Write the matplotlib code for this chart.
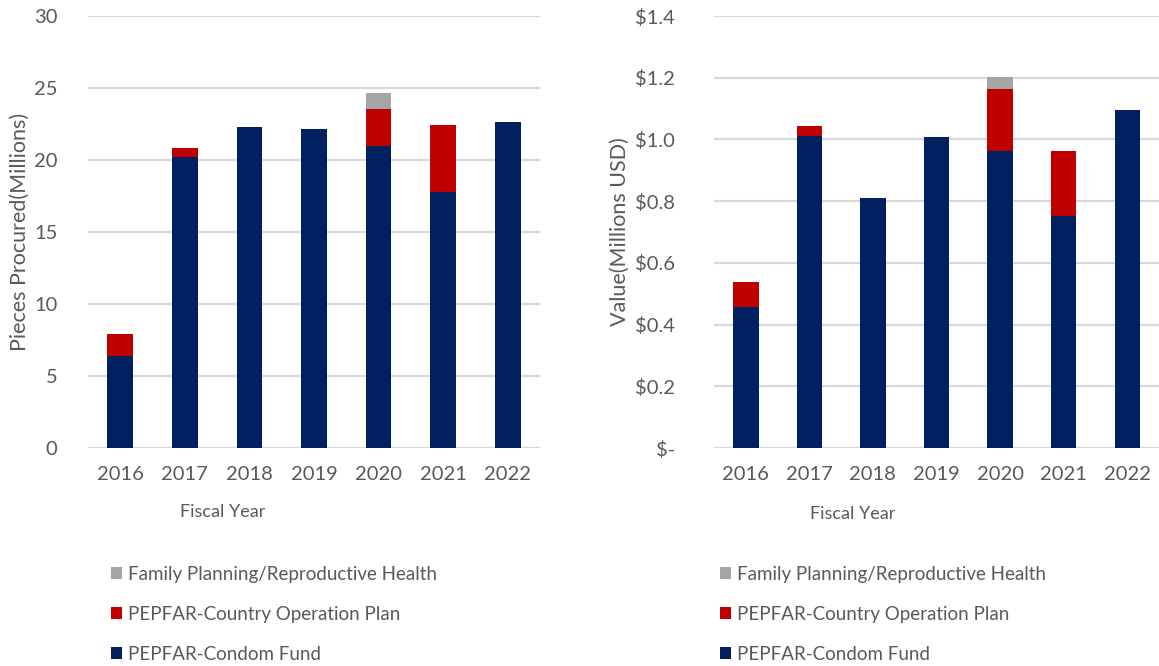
import matplotlib
matplotlib.use("Agg")
import numpy as np
from matplotlib import pyplot as plt
from matplotlib.ticker import FuncFormatter

# Data
years = ["2016", "2017", "2018", "2019", "2020", "2021", "2022"]

pieces_condom_fund = [6.4, 20.2, 22.3, 22.15, 21.0, 17.8, 22.65]
pieces_cop = [1.5, 0.63, 0.0, 0.0, 2.57, 4.6, 0.0]
pieces_fprh = [0.0, 0.0, 0.0, 0.0, 1.05, 0.0, 0.0]

value_condom_fund = [0.456, 1.012, 0.810, 1.008, 0.964, 0.752, 1.094]
value_cop = [0.081, 0.031, 0.0, 0.0, 0.199, 0.212, 0.0]
value_fprh = [0.0, 0.0, 0.0, 0.0, 0.039, 0.0, 0.0]

series_labels = ["PEPFAR-Condom Fund", "PEPFAR-Country Operation Plan",
                 "Family Planning/Reproductive Health"]
series_colors = ["#002060", "#C00000", "#A5A5A5"]

TEXT = "#595959"
GRID = "#D9D9D9"
plt.rcParams['font.family'] = ['Lato', 'DejaVu Sans']

fig = plt.figure(figsize=(11.59, 6.66), dpi=100)
ax1 = fig.add_axes([88 / 1159, 1 - 448 / 666, 452 / 1159, 432 / 666])
ax2 = fig.add_axes([714 / 1159, 1 - 448 / 666, 445 / 1159, 432 / 666])


def draw_stack(ax, stacks):
    x = np.arange(len(years))
    bottom = np.zeros(len(years))
    handles = []
    for vals, lab, col in zip(stacks, series_labels, series_colors):
        h = ax.bar(x, vals, 0.4, bottom=bottom, color=col, label=lab, zorder=3)
        bottom += np.array(vals)
        handles.append(h)
    ax.set_xlim(-0.5, len(years) - 0.5)
    ax.set_xticks(x)
    ax.set_xticklabels(years)
    for s in ax.spines.values():
        s.set_visible(False)
    ax.yaxis.grid(True, color=GRID, linewidth=1.6, zorder=0)
    ax.set_axisbelow(True)
    ax.tick_params(length=0, colors=TEXT, labelsize=14.5)
    ax.tick_params(axis='x', pad=13)
    return handles


h1 = draw_stack(ax1, [pieces_condom_fund, pieces_cop, pieces_fprh])
ax1.set_ylim(0, 30)
ax1.set_yticks(range(0, 31, 5))
ax1.tick_params(axis='y', pad=22)
ax1.set_ylabel("Pieces Procured(Millions)", color=TEXT, fontsize=15.5)
ax1.yaxis.set_label_coords(-58 / 452, 0.5)

h2 = draw_stack(ax2, [value_condom_fund, value_cop, value_fprh])
ax2.set_ylim(0, 1.4)
ax2.set_yticks(np.arange(0, 1.41, 0.2))
ax2.yaxis.set_major_formatter(FuncFormatter(lambda v, p: "$-" if abs(v) < 1e-9 else f"${v:.1f}"))
ax2.tick_params(axis='y', pad=28)
ax2.set_ylabel("Value(Millions USD)", color=TEXT, fontsize=15.5)
ax2.yaxis.set_label_coords(-84 / 445, 0.5)

fig.text(223 / 1159, 1 - 512 / 666, "Fiscal Year", color=TEXT, fontsize=13, ha='center', va='center')
fig.text(853 / 1159, 1 - 514 / 666, "Fiscal Year", color=TEXT, fontsize=13, ha='center', va='center')

for handles, xpos in [(h1, 94 / 1159), (h2, 703 / 1159)]:
    leg = fig.legend(handles[::-1], series_labels[::-1], loc='upper left',
                     bbox_to_anchor=(xpos, 1 - 549 / 666), frameon=False,
                     fontsize=13.5, handlelength=0.6, handleheight=0.6,
                     handletextpad=0.3, labelspacing=1.22)
    for t in leg.get_texts():
        t.set_color(TEXT)

fig.savefig("out.png", dpi=100)
